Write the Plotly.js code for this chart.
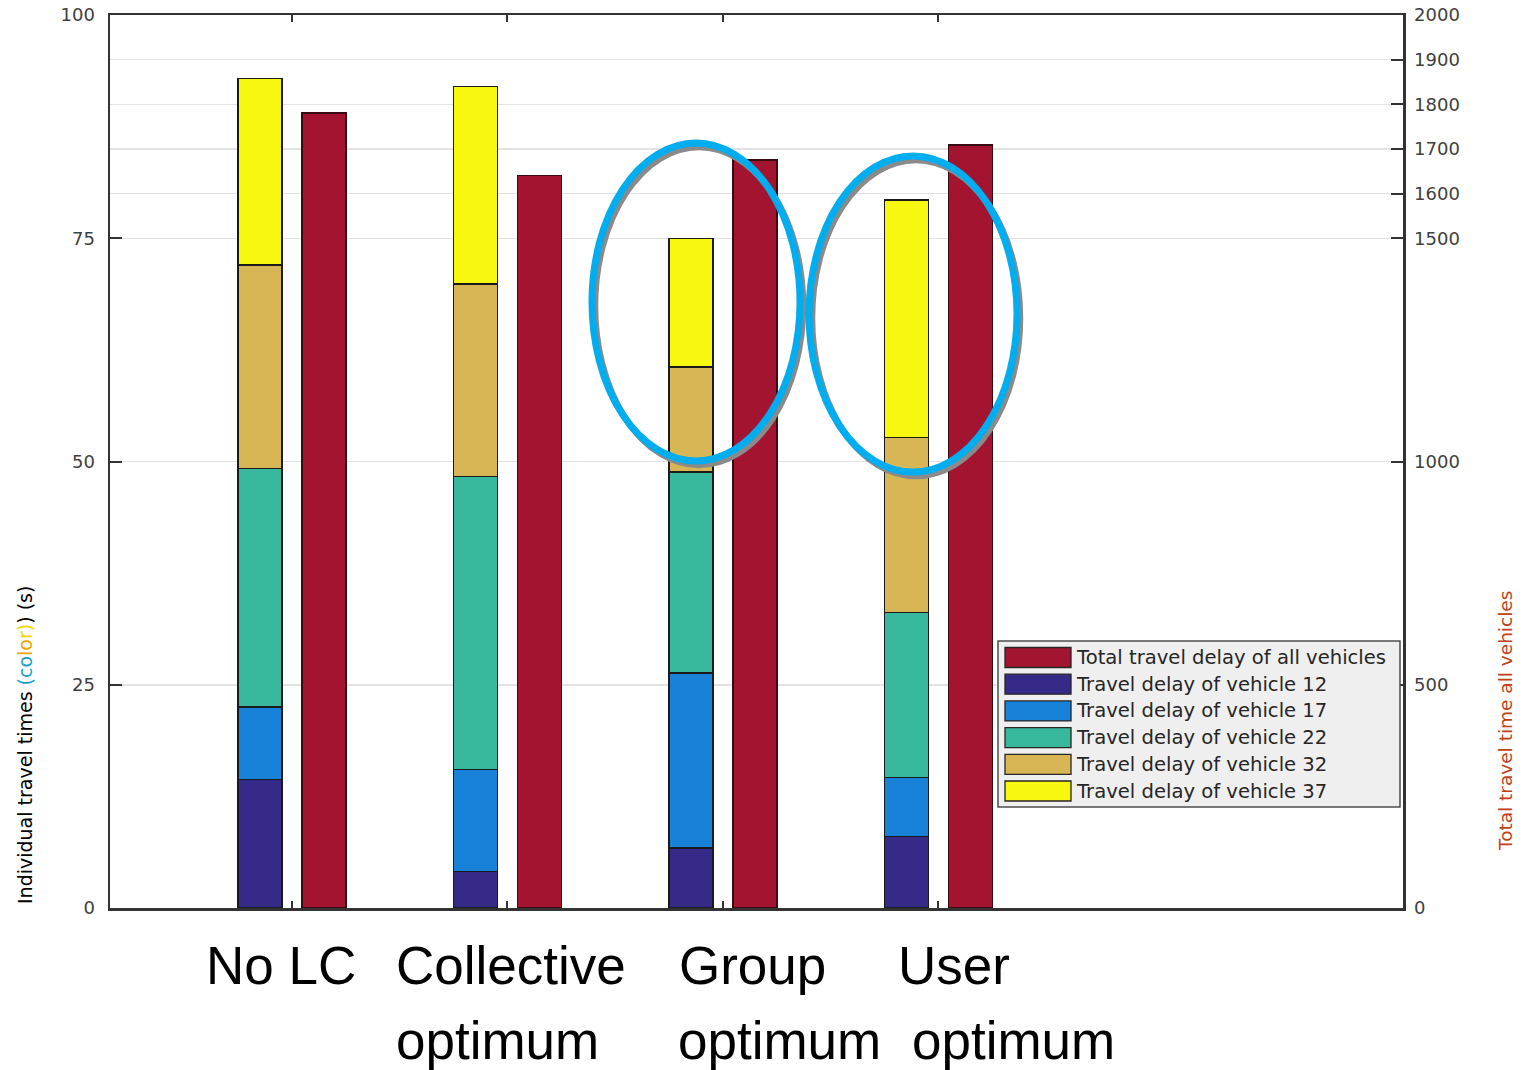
<!DOCTYPE html>
<html><head><meta charset="utf-8">
<script src="https://cdn.plot.ly/plotly-3.0.1.min.js"></script>
<style>html,body{margin:0;padding:0;background:#fff}#chart{width:1528px;height:1070px}</style>
</head><body><div id="chart"></div><script>
// ---- data ----
const scenarioLines = [['No LC'], ['Collective', 'optimum'], ['Group', 'optimum'], ['User', 'optimum']];
const groupPos = [1, 2, 3, 4];
const vehicle12 = [14.4, 4.1, 6.7, 8.0];
const vehicle17 = [8.1, 11.4, 19.6, 6.6];
const vehicle22 = [26.7, 32.8, 22.5, 18.5];
const vehicle32 = [22.8, 21.6, 11.8, 19.6];
const vehicle37 = [20.9, 22.1, 14.4, 26.6];
const totalDelay = [1780, 1640, 1675, 1709];
const legendNames = ['Total travel delay of all vehicles', 'Travel delay of vehicle 12', 'Travel delay of vehicle 17',
  'Travel delay of vehicle 22', 'Travel delay of vehicle 32', 'Travel delay of vehicle 37'];
const leftTicks = [0, 25, 50, 75, 100];
const rightTicks = [0, 500, 1000, 1500, 1600, 1700, 1800, 1900, 2000];

// ---- style ----
const colors = ['#a2142f', '#352a87', '#1882d9', '#38b89c', '#d8b655', '#f7f70f'];
const W = 1528, H = 1070;
const M = {l: 110, r: 125, t: 15, b: 162};
const pw = W - M.l - M.r, ph = H - M.t - M.b;
const px2x = p => (p - M.l) / pw;
const py2y = p => (H - M.b - p) / ph;
const barW = 0.204, barSep = 0.1485;
const xRange = [0.1555, 6.1555];

const stackSeries = [vehicle12, vehicle17, vehicle22, vehicle32, vehicle37];
const traces = stackSeries.map((s, i) => ({
  type: 'bar', x: groupPos, y: s, name: legendNames[i + 1], xaxis: 'x', yaxis: 'y',
  width: barW, offset: -barSep - barW / 2,
  marker: {color: colors[i + 1], line: {color: '#1a1a1a', width: 1.5}},
  hoverinfo: 'y', showlegend: false
}));
traces.push({
  type: 'bar', x: groupPos, y: totalDelay, name: legendNames[0], xaxis: 'x', yaxis: 'y2',
  width: barW, offset: barSep - barW / 2,
  marker: {color: colors[0], line: {color: '#3a0a12', width: 1.5}},
  hoverinfo: 'y', showlegend: false
});

const shapes = [];
const annotations = [];

// highlight ellipses (decoration, in pixel geometry): [cx, cy, rx, ry]
const ellipses = [[696, 302, 104, 159], [913, 314, 104, 158]];
ellipses.forEach(([cx, cy, rx, ry]) => {
  [['#8a8a8a', 3, 4, 6.5], ['#00aeef', 0, 0, 7]].forEach(([c, dx, dy, w]) => {
    shapes.push({type: 'circle', xref: 'paper', yref: 'paper', layer: 'above',
      x0: px2x(cx - rx + dx), x1: px2x(cx + rx + dx), y0: py2y(cy + ry + dy), y1: py2y(cy - ry + dy),
      line: {color: c, width: w}, fillcolor: 'rgba(0,0,0,0)'});
  });
});

// custom legend
shapes.push({type: 'rect', xref: 'paper', yref: 'paper', layer: 'above',
  x0: px2x(998), x1: px2x(1400), y0: py2y(807), y1: py2y(641),
  fillcolor: '#efefef', line: {color: '#4d4d4d', width: 1.5}});
legendNames.forEach((n, i) => {
  const cy = 657.5 + i * 26.7;
  shapes.push({type: 'rect', xref: 'paper', yref: 'paper', layer: 'above',
    x0: px2x(1005), x1: px2x(1071), y0: py2y(cy + 10), y1: py2y(cy - 10),
    fillcolor: colors[i], line: {color: '#262626', width: 1.3}});
  annotations.push({xref: 'paper', yref: 'paper', x: px2x(1074), y: py2y(cy), xanchor: 'left', yanchor: 'middle',
    text: n, showarrow: false, font: {family: 'DejaVu Sans', size: 19.6, color: '#262626'}});
});

// scenario labels
const labelLeft = [[204], [394, 394], [677, 676], [896, 910]];
const lineMid = [966, 1040];
scenarioLines.forEach((lines, i) => {
  lines.forEach((t, j) => {
    annotations.push({xref: 'paper', yref: 'paper', x: px2x(labelLeft[i][j]), y: py2y(lineMid[j]),
      xanchor: 'left', yanchor: 'middle', text: t, showarrow: false,
      font: {family: 'Liberation Sans, Arial', size: 53, color: '#000'}});
  });
});

// axis titles
annotations.push({xref: 'paper', yref: 'paper', x: px2x(25), y: py2y(745), xanchor: 'center', yanchor: 'middle',
  textangle: -90, showarrow: false, font: {family: 'DejaVu Sans', size: 19, color: '#000'},
  text: 'Individual travel times <span style="color:#1a9fd0">(co</span><span style="color:#f0a500">lo</span><span style="color:#f2d600">r)</span>) (s)'});
annotations.push({xref: 'paper', yref: 'paper', x: px2x(1505), y: py2y(721), xanchor: 'center', yanchor: 'middle',
  textangle: -90, showarrow: false, font: {family: 'DejaVu Sans', size: 18.5, color: '#c0401a'},
  text: 'Total travel time all vehicles'});

const tickFont = {family: 'DejaVu Sans', size: 18, color: '#404040'};
const layout = {
  width: W, height: H, margin: M, paper_bgcolor: '#fff', plot_bgcolor: '#fff',
  barmode: 'stack', showlegend: false,
  xaxis: {range: xRange, tickvals: groupPos, showticklabels: false, ticks: 'inside', ticklen: 7, tickwidth: 2,
    tickcolor: '#333', showline: true, linecolor: '#333', linewidth: 2.5, mirror: 'ticks', showgrid: false, zeroline: false},
  yaxis: {range: [0, 100], tickvals: leftTicks, ticks: 'inside', ticklen: 12, tickwidth: 2, tickcolor: '#333',
    showline: true, linecolor: '#333', linewidth: 2.5, showgrid: false, zeroline: false, tickfont: tickFont,
    ticklabelstandoff: 9},
  yaxis2: {range: [0, 2000], tickvals: rightTicks, overlaying: 'y', side: 'right', ticks: 'inside', ticklen: 12,
    tickwidth: 2, tickcolor: '#333', showline: true, linecolor: '#333', linewidth: 2.5, showgrid: true,
    gridcolor: '#e3e3e3', gridwidth: 1.5, zeroline: false, tickfont: tickFont, ticklabelstandoff: 5},
  shapes: shapes, annotations: annotations
};
Plotly.newPlot('chart', traces, layout, {displayModeBar: false, staticPlot: true});
</script></body></html>
